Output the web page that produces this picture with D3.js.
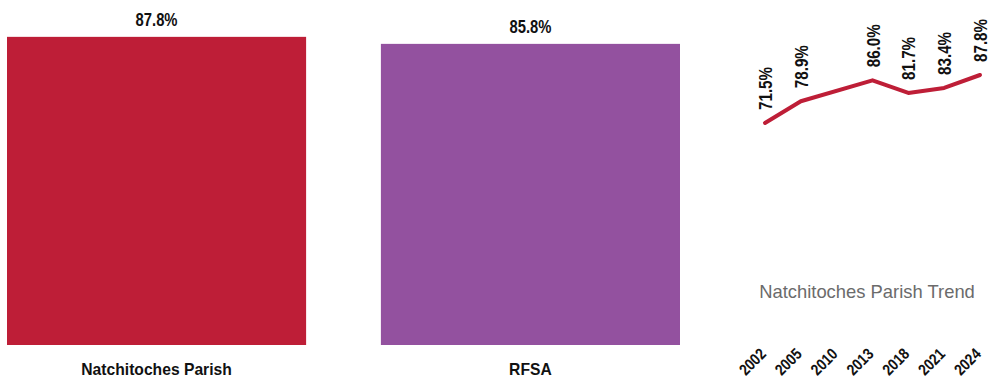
<!DOCTYPE html>
<html>
  <head>
    <style>
      body { margin: 0; background: #fff; }
      text { font-family: "Liberation Sans", Arial, sans-serif; }
    </style>
  </head>

  <body>

    <svg class="surface" width="991" height="379"></svg>

    <script src="https://cdn.jsdelivr.net/npm/d3@7"></script>
    <script>

      const categories = ['Natchitoches Parish', 'RFSA']
      const values = [87.8, 85.8]
      const barColors = ['#be1e37', '#93519f']

      const years = ['2002', '2005', '2010', '2013', '2018', '2021', '2024']
      const trend = [71.5, 78.9, null, 86.0, 81.7, 83.4, 87.8]
      const trendTitle = 'Natchitoches Parish Trend'

      const svg = d3.select('.surface')

      // no narrow font installed, so squeeze the labels horizontally
      const narrow = 0.8

      // bar panel
      const x = d3.scaleBand().domain(categories).range([7, 680]).paddingInner(0.2)
      const y = d3.scaleLinear().domain([0, 98.3]).range([345, 0])

      svg.selectAll('rect.bar')
        .data(values)
        .enter().append('rect')
        .attr('class', 'bar')
        .attr('x', (d, i) => x(categories[i]))
        .attr('width', x.bandwidth())
        .attr('y', d => y(d))
        .attr('height', d => y(0) - y(d))
        .attr('fill', (d, i) => barColors[i])

      svg.selectAll('text.val')
        .data(values)
        .enter().append('text')
        .attr('class', 'val')
        .attr('transform', (d, i) => `translate(${x(categories[i]) + x.bandwidth() / 2},${y(d) - 11}) scale(${narrow},1)`)
        .attr('text-anchor', 'middle')
        .attr('font-size', 18.5)
        .attr('font-weight', 'bold')
        .attr('fill', '#111')
        .text(d => d.toFixed(1) + '%')

      svg.selectAll('text.cat')
        .data(categories)
        .enter().append('text')
        .attr('class', 'cat')
        .attr('transform', d => `translate(${x(d) + x.bandwidth() / 2},375) scale(0.95,1)`)
        .attr('text-anchor', 'middle')
        .attr('font-size', 16.5)
        .attr('font-weight', 'bold')
        .attr('fill', '#111')
        .text(d => d)

      // trend panel
      const tx = d3.scalePoint().domain(years).range([765, 980])
      const ty = d3.scaleLinear().domain([71.5, 87.8]).range([123, 75])

      const pts = years.map((yr, i) => ({ yr, v: trend[i] })).filter(d => d.v != null)

      svg.append('path')
        .datum(pts)
        .attr('fill', 'none')
        .attr('stroke', '#be1e37')
        .attr('stroke-width', 4)
        .attr('stroke-linejoin', 'round')
        .attr('stroke-linecap', 'round')
        .attr('d', d3.line().x(d => tx(d.yr)).y(d => ty(d.v)))

      svg.selectAll('text.tlab')
        .data(pts)
        .enter().append('text')
        .attr('class', 'tlab')
        .attr('transform', d => `translate(${tx(d.yr) + 7},${ty(d.v) - 13}) rotate(-90) scale(${narrow},1)`)
        .attr('font-size', 19)
        .attr('font-weight', 'bold')
        .attr('fill', '#111')
        .text(d => d.v.toFixed(1) + '%')

      svg.append('text')
        .attr('x', 867)
        .attr('y', 298)
        .attr('text-anchor', 'middle')
        .attr('font-size', 18.4)
        .attr('fill', '#6b6b6b')
        .text(trendTitle)

      svg.selectAll('text.yr')
        .data(years)
        .enter().append('text')
        .attr('class', 'yr')
        .attr('transform', d => `translate(${tx(d) + 2},355) rotate(-45) scale(0.85,1)`)
        .attr('text-anchor', 'end')
        .attr('font-size', 16)
        .attr('font-weight', 'bold')
        .attr('fill', '#111')
        .text(d => d)

    </script>
  </body>

</html>
